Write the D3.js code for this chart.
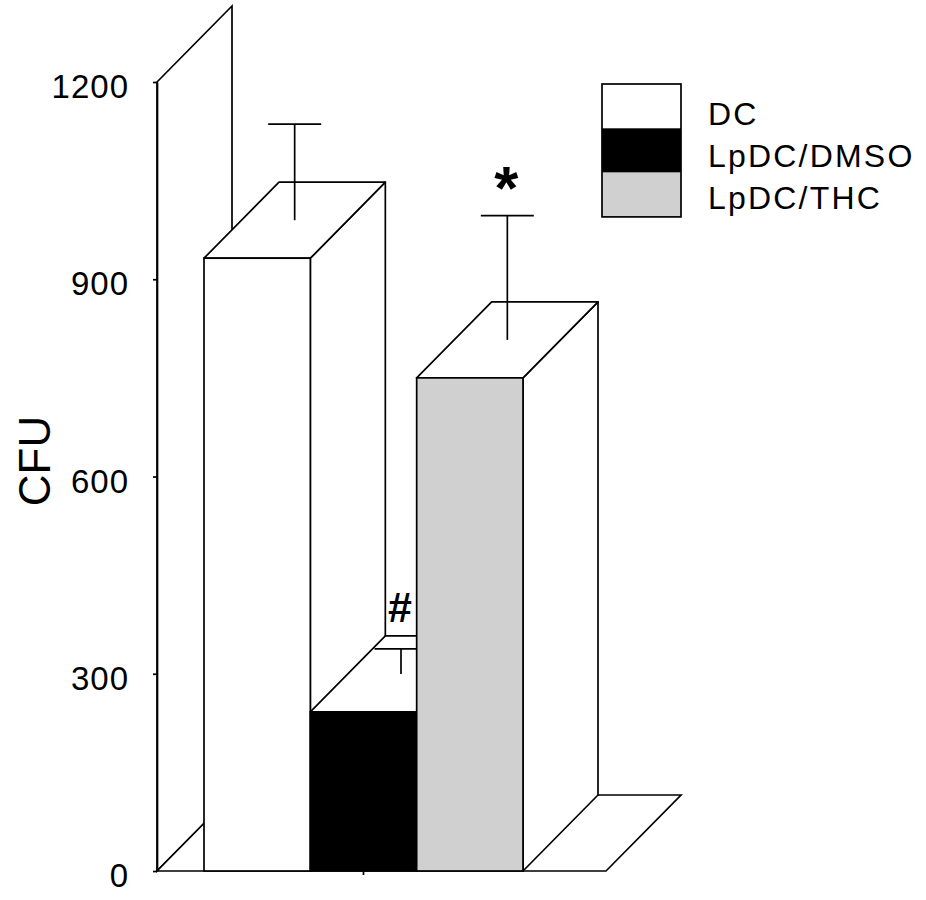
<!DOCTYPE html>
<html>
<head>
<meta charset="utf-8">
<script src="https://cdn.jsdelivr.net/npm/d3@7"></script>
<style>
  body { margin: 0; background: #fff; }
  text { font-family: "Liberation Sans", Arial, sans-serif; }
</style>
</head>
<body>
<div id="chart"></div>
<script>
// datos
const categories = ["DC", "LpDC/DMSO", "LpDC/THC"]
const means = [932, 242, 750]
const sems = [146, 38, 189]
const marks = ["", "#", "*"]
const yTicks = [0, 300, 600, 900, 1200]
const colors = ["#ffffff", "#000000", "#d0d0d0"]

const width = 926
const height = 900
const frame = { left: 157, right: 606, top: 82, bottom: 871 }
const depth = { dx: 75, dy: -76 }

const svg = d3.select("#chart")
  .append("svg")
  .attr("width", width)
  .attr("height", height)

// escalas
const x = d3.scaleBand().domain(categories).range([204, 523]).padding(0)
const y = d3.scaleLinear().domain([0, 1200]).range([frame.bottom, frame.top])

const stroke = "#000"
const sw = 1.7
const pts = p => p.map(d => d.join(",")).join(" ")

// pared izquierda y suelo
svg.append("polygon")
  .attr("points", pts([
    [frame.left, y(0)], [frame.left, y(1200)],
    [frame.left + depth.dx, y(1200) + depth.dy], [frame.left + depth.dx, y(0) + depth.dy]
  ]))
  .attr("fill", "#fff").attr("stroke", stroke).attr("stroke-width", sw)

svg.append("polygon")
  .attr("points", pts([
    [frame.left, y(0)], [frame.right, y(0)],
    [frame.right + depth.dx, y(0) + depth.dy], [frame.left + depth.dx, y(0) + depth.dy]
  ]))
  .attr("fill", "#fff").attr("stroke", stroke).attr("stroke-width", sw)

// eje Y
const yAxisGroup = svg.append("g")
  .attr("transform", `translate(${frame.left},0)`)
  .call(d3.axisLeft(y).tickValues(yTicks).tickFormat(d3.format("d"))
    .tickSize(4).tickSizeOuter(0).tickPadding(24))

yAxisGroup.select(".domain").attr("stroke-width", sw)
yAxisGroup.selectAll(".tick line").attr("stroke-width", sw)
yAxisGroup.selectAll(".tick text")
  .attr("font-size", 33)
  .attr("letter-spacing", 1)
  .attr("dy", "0.47em")
  .attr("fill", "#000")
  .style("font-family", "'Liberation Sans', Arial, sans-serif")

// tick del eje X (centro del grupo)
svg.append("line")
  .attr("x1", x("LpDC/DMSO") + x.bandwidth() / 2)
  .attr("x2", x("LpDC/DMSO") + x.bandwidth() / 2)
  .attr("y1", y(0)).attr("y2", y(0) + 4)
  .attr("stroke", stroke).attr("stroke-width", sw)

svg.append("text")
  .attr("transform", `translate(50, 461) rotate(-90)`)
  .attr("text-anchor", "middle")
  .attr("font-size", 44)
  .text("CFU")

// barras 3D con barras de error
const bars = svg.append("g")
categories.forEach((c, i) => {
  const x0 = x(c), x1 = x(c) + x.bandwidth()
  const yt = y(means[i]), yb = y(0)
  const g = bars.append("g")

  // cara lateral
  g.append("polygon")
    .attr("points", pts([[x1, yt], [x1 + depth.dx, yt + depth.dy], [x1 + depth.dx, yb + depth.dy], [x1, yb]]))
    .attr("fill", "#fff").attr("stroke", stroke).attr("stroke-width", sw).attr("stroke-linejoin", "round")
  // cara superior
  g.append("polygon")
    .attr("points", pts([[x0, yt], [x1, yt], [x1 + depth.dx, yt + depth.dy], [x0 + depth.dx, yt + depth.dy]]))
    .attr("fill", "#fff").attr("stroke", stroke).attr("stroke-width", sw).attr("stroke-linejoin", "round")
  // frente
  g.append("rect")
    .attr("x", x0).attr("y", yt)
    .attr("width", x.bandwidth()).attr("height", yb - yt)
    .attr("fill", colors[i]).attr("stroke", stroke).attr("stroke-width", sw)

  // barra de error (a media profundidad)
  const cx = x0 + x.bandwidth() / 2 + depth.dx / 2
  const yLo = y(means[i]) + depth.dy / 2
  const yHi = y(means[i] + sems[i]) + depth.dy / 2
  g.append("line")
    .attr("x1", cx).attr("x2", cx).attr("y1", yLo).attr("y2", yHi)
    .attr("stroke", stroke).attr("stroke-width", sw)
  g.append("line")
    .attr("x1", cx - 26.5).attr("x2", cx + 26.5).attr("y1", yHi).attr("y2", yHi)
    .attr("stroke", stroke).attr("stroke-width", sw)

  if (marks[i]) {
    g.append("text")
      .attr("x", cx - 1)
      .attr("y", marks[i] === "*" ? yHi - 7 : yHi - 27)
      .attr("text-anchor", "middle")
      .attr("font-weight", "bold")
      .attr("font-size", marks[i] === "*" ? 62 : 43)
      .text(marks[i])
  }
})

// leyenda
const legend = svg.append("g").attr("transform", "translate(602,84)")
const swH = 44.3
categories.forEach((c, i) => {
  legend.append("rect")
    .attr("x", 0).attr("y", i * swH)
    .attr("width", 79).attr("height", swH)
    .attr("fill", colors[i])
  legend.append("text")
    .attr("x", 106).attr("y", 41 + i * 42)
    .attr("font-size", 32)
    .attr("letter-spacing", 2.2)
    .text(c)
})
legend.append("rect")
  .attr("width", 79).attr("height", swH * 3)
  .attr("fill", "none").attr("stroke", stroke).attr("stroke-width", sw)
</script>
</body>
</html>
